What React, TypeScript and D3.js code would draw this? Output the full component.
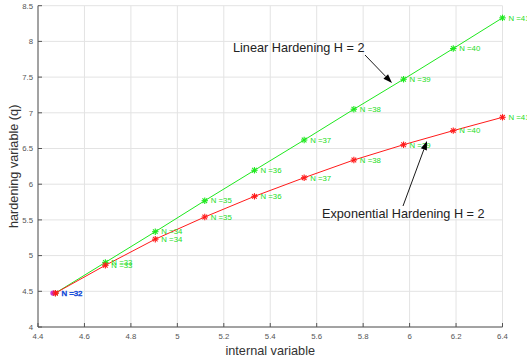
import React from "react";
import * as d3 from "d3";

// Plastic step data: internal variable vs hardening variable q
const stepLabels = [32, 33, 34, 35, 36, 37, 38, 39, 40, 41];
const internalVar = [4.475, 4.69, 4.905, 5.118, 5.332, 5.546, 5.76, 5.974, 6.188, 6.4];
const linearQ = [4.475, 4.905, 5.335, 5.769, 6.195, 6.619, 7.05, 7.47, 7.9, 8.33];
const exponentialQ = [4.475, 4.864, 5.23, 5.541, 5.83, 6.091, 6.339, 6.553, 6.75, 6.937];

const xTicks = [4.4, 4.6, 4.8, 5, 5.2, 5.4, 5.6, 5.8, 6, 6.2, 6.4];
const yTicks = [4, 4.5, 5, 5.5, 6, 6.5, 7, 7.5, 8, 8.5];

const W = 527;
const H = 363;
const left = 38;
const right = 502.5;
const top = 5.7;
const bottom = 327;

const FONT = "'Liberation Sans', Arial, Helvetica, sans-serif";

function Star({ x, y, color }: { x: number; y: number; color: string }) {
  const r = 3.2;
  const d = r * 0.72;
  return (
    <g stroke={color} strokeWidth={1.1}>
      <line x1={x - r} y1={y} x2={x + r} y2={y} />
      <line x1={x} y1={y - r} x2={x} y2={y + r} />
      <line x1={x - d} y1={y - d} x2={x + d} y2={y + d} />
      <line x1={x - d} y1={y + d} x2={x + d} y2={y - d} />
    </g>
  );
}

function Arrow({ x1, y1, x2, y2 }: { x1: number; y1: number; x2: number; y2: number }) {
  const ang = Math.atan2(y2 - y1, x2 - x1);
  const len = 9;
  const half = 3.2;
  const bx = x2 - len * Math.cos(ang);
  const by = y2 - len * Math.sin(ang);
  const px = -Math.sin(ang) * half;
  const py = Math.cos(ang) * half;
  return (
    <g>
      <line x1={x1} y1={y1} x2={bx} y2={by} stroke="#000" strokeWidth={0.9} />
      <path d={`M${x2},${y2}L${bx + px},${by + py}L${bx - px},${by - py}Z`} fill="#000" />
    </g>
  );
}

export default function App() {
  const x = d3.scaleLinear().domain([4.4, 6.4]).range([left, right]);
  const y = d3.scaleLinear().domain([4, 8.5]).range([bottom, top]);

  const line = d3
    .line<number>()
    .x((_, i) => x(internalVar[i]))
    .y((d) => y(d));

  const green = "#1ee81e";
  const red = "#ff1a1a";
  const labelGreen = "#22dd22";

  return (
    <svg
      width={W}
      height={H}
      style={{ position: "absolute", left: 0, top: 0, background: "#fff" }}
      fontFamily={FONT}
    >
      {/* grid */}
      <g stroke="#e3e3e3" strokeWidth={1}>
        {xTicks.map((t) => (
          <line key={"gx" + t} x1={x(t)} x2={x(t)} y1={top} y2={bottom} />
        ))}
        {yTicks.map((t) => (
          <line key={"gy" + t} x1={left} x2={right} y1={y(t)} y2={y(t)} />
        ))}
      </g>

      {/* axes */}
      <g stroke="#555" strokeWidth={1}>
        <line x1={left} x2={left} y1={top} y2={bottom} />
        <line x1={left} x2={right} y1={bottom} y2={bottom} />
        {xTicks.map((t) => (
          <line key={"tx" + t} x1={x(t)} x2={x(t)} y1={bottom} y2={bottom - 4} />
        ))}
        {yTicks.map((t) => (
          <line key={"ty" + t} x1={left} x2={left + 4} y1={y(t)} y2={y(t)} />
        ))}
      </g>
      <g fill="#555" fontSize={7.8}>
        {xTicks.map((t) => (
          <text key={"lx" + t} x={x(t)} y={bottom + 12} textAnchor="middle">
            {String(t)}
          </text>
        ))}
        {yTicks.map((t) => (
          <text key={"ly" + t} x={left - 5} y={y(t) + 2.8} textAnchor="end">
            {String(t)}
          </text>
        ))}
      </g>

      <text x={(left + right) / 2} y={355} textAnchor="middle" fontSize={12.7} fill="#333">
        internal variable
      </text>
      <text
        transform={`translate(18,${(top + bottom) / 2}) rotate(-90)`}
        textAnchor="middle"
        fontSize={12.7}
        fill="#333"
      >
        hardening variable (q)
      </text>

      {/* series lines */}
      <path d={line(linearQ) || ""} fill="none" stroke={green} strokeWidth={1} />
      <path d={line(exponentialQ) || ""} fill="none" stroke={red} strokeWidth={1} />

      {/* markers and step labels */}
      {linearQ.map((q, i) => (
        <Star key={"gs" + i} x={x(internalVar[i])} y={y(q)} color={green} />
      ))}
      {exponentialQ.map((q, i) => (
        <Star key={"rs" + i} x={x(internalVar[i])} y={y(q)} color={red} />
      ))}
      <g fontSize={7.8} fill={labelGreen}>
        {linearQ.map((q, i) =>
          i === 0 ? null : (
            <text key={"gl" + i} x={x(internalVar[i]) + 6} y={y(q) + 2.8}>
              {`N =${stepLabels[i]}`}
            </text>
          )
        )}
        {exponentialQ.map((q, i) =>
          i === 0 ? null : (
            <text key={"rl" + i} x={x(internalVar[i]) + 6} y={y(q) + 2.8}>
              {`N =${stepLabels[i]}`}
            </text>
          )
        )}
      </g>

      {/* elastic start point */}
      <circle cx={x(internalVar[0]) - 2.5} cy={y(linearQ[0])} r={2.6} fill="#c43bd6" />
      <Star x={x(internalVar[0])} y={y(exponentialQ[0])} color={red} />
      <text
        x={x(internalVar[0]) + 6}
        y={y(linearQ[0]) + 2.8}
        fontSize={7.8}
        fill="#1a4fd8"
        stroke="#1a4fd8"
        strokeWidth={0.5}
      >
        {`N =${stepLabels[0]}`}
      </text>

      {/* annotations */}
      <text x={233} y={51.5} fontSize={12.7} fill="#222">
        Linear Hardening H = 2
      </text>
      <Arrow x1={365} y1={55} x2={392} y2={83} />
      <text x={322} y={218} fontSize={12.7} fill="#222">
        Exponential Hardening H = 2
      </text>
      <Arrow x1={403} y1={206} x2={427} y2={141} />
    </svg>
  );
}
